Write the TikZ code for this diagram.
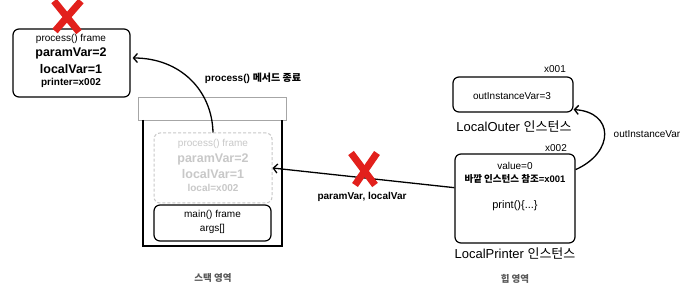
\documentclass[tikz,border=0pt]{standalone}
\usepackage{fontspec}
\setmainfont{Liberation Sans}
\newfontfamily\kr{Noto Sans CJK KR}
\usetikzlibrary{arrows.meta,calc}
\definecolor{xred}{RGB}{226,32,28}
\definecolor{ghostc}{RGB}{200,200,200}
\tikzset{
  box/.style={draw, rounded corners=6pt, line width=1.2pt, fill=white},
  ghostbox/.style={draw=ghostc, dashed, dash pattern=on 3pt off 2pt, rounded corners=6pt, line width=1pt},
  t10/.style={inner sep=0pt, font=\fontsize{10}{12}\selectfont},
  b10/.style={inner sep=0pt, font=\fontsize{10}{12}\selectfont\bfseries},
  b12/.style={inner sep=0pt, font=\fontsize{12.5}{14}\selectfont\bfseries},
  t13/.style={inner sep=0pt, font=\fontsize{13}{15}\selectfont},
  area/.style={inner sep=0pt, text=black!65, font=\fontsize{9.5}{11}\selectfont\kr\bfseries},
  arr/.style={-{Straight Barb[length=4pt,width=9pt]}, line width=1.3pt},
  redx/.style={draw=xred, line width=7pt},
}
\begin{document}
\begin{tikzpicture}[x=1pt,y=-1pt]
\useasboundingbox (0,0) rectangle (689,286);
\fill[white] (0,0) rectangle (689,286);

% ---- stack ----
\node[draw=black!35, line width=0.7pt, minimum width=148, minimum height=23, inner sep=0pt] (lid) at (212,108.5) {};
\draw[line width=1.6pt] (143,120) -- (143,246) -- (282,246) -- (282,120);

\node[ghostbox, minimum width=118, minimum height=70, inner sep=0pt] (ghost) at (213,168) {};
\node[t10, text=ghostc] (g1) at (213,144) {process() frame};
\node[b12, text=ghostc] (g2) at (213,159) {paramVar=2};
\node[b12, text=ghostc] (g3) at (213,174) {localVar=1};
\node[b10, text=ghostc] (g4) at (213,188) {local=x002};

\node[box, minimum width=117, minimum height=36, inner sep=0pt] (mainf) at (212.5,223) {};
\node[t10] (m1) at (212.5,215) {main() frame};
\node[t10] (m2) at (212.5,229) {args[]};

\node[area] (stacklbl) at (213,278) {스택 영역};

% ---- popped process frame ----
\node[box, minimum width=117, minimum height=68, inner sep=0pt] (proc) at (71.5,63) {};
\node[t10] (p1) at (71,39) {process() frame};
\node[b12] (p2) at (71,53) {paramVar=2};
\node[b12] (p3) at (71,69) {localVar=1};
\node[b10] (p4) at (71,83) {printer=x002};

\node[b10] (endlbl) at (253,78) {process() {\kr\bfseries 메서드 종료}};

\coordinate (procin) at ($(proc.east)+(2,-5)$);
\draw[arr] (ghost.north) .. controls (212,90) and (180,58) .. (procin);

% ---- heap ----
\node[box, minimum width=120, minimum height=35, inner sep=0pt] (outer) at (513,94.5) {};
\node[t10] (o1) at (512,96) {outInstanceVar=3};
\node[t10] (oaddr) at (555,69) {x001};
\node[t13] (olbl) at (514,127) {LocalOuter {\kr 인스턴스}};

\node[box, minimum width=120, minimum height=89, inner sep=0pt] (printer) at (515,198.5) {};
\node[t10] (paddr) at (556,148) {x002};
\node[t10] (q1) at (515,166) {value=0};
\node[inner sep=0pt, font=\fontsize{9.5}{11}\selectfont\bfseries] (q2) at (515,179) {{\kr 바깥 인스턴스 참조}=x001};
\node[inner sep=0pt, font=\fontsize{11}{13}\selectfont] (q3) at (515,206) {print()\{...\}};
\node[t13] (plbl) at (515,254) {LocalPrinter {\kr 인스턴스}};

\node[area] (heaplbl) at (515,279) {힙 영역};

% ---- references ----
\coordinate (pw) at ($(printer.north west)!0.38!(printer.south west)$);
\draw[arr] (pw) -- (ghost.east);
\node[b10] (reflbl) at (362,197) {paramVar, localVar};

\coordinate (pe) at ($(printer.north east)!0.18!(printer.south east)$);
\coordinate (oin) at ($(outer.south east)+(0,-3)$);
\draw[arr] (pe) .. controls (615,152) and (614,112) .. (oin);
\node[t10] (ivlbl) at (647,134) {outInstanceVar};

% ---- red crosses ----
\coordinate (xa) at (67,16);
\draw[redx] ($(xa)+(-13,-15)$) -- ($(xa)+(12,16)$);
\draw[redx] ($(xa)+(14,-15)$) -- ($(xa)+(-12,15)$);
\coordinate (xb) at (363,169);
\draw[redx] ($(xb)+(-12,-16)$) -- ($(xb)+(12,16)$);
\draw[redx] ($(xb)+(14,-16)$) -- ($(xb)+(-8,16)$);
\end{tikzpicture}
\end{document}
